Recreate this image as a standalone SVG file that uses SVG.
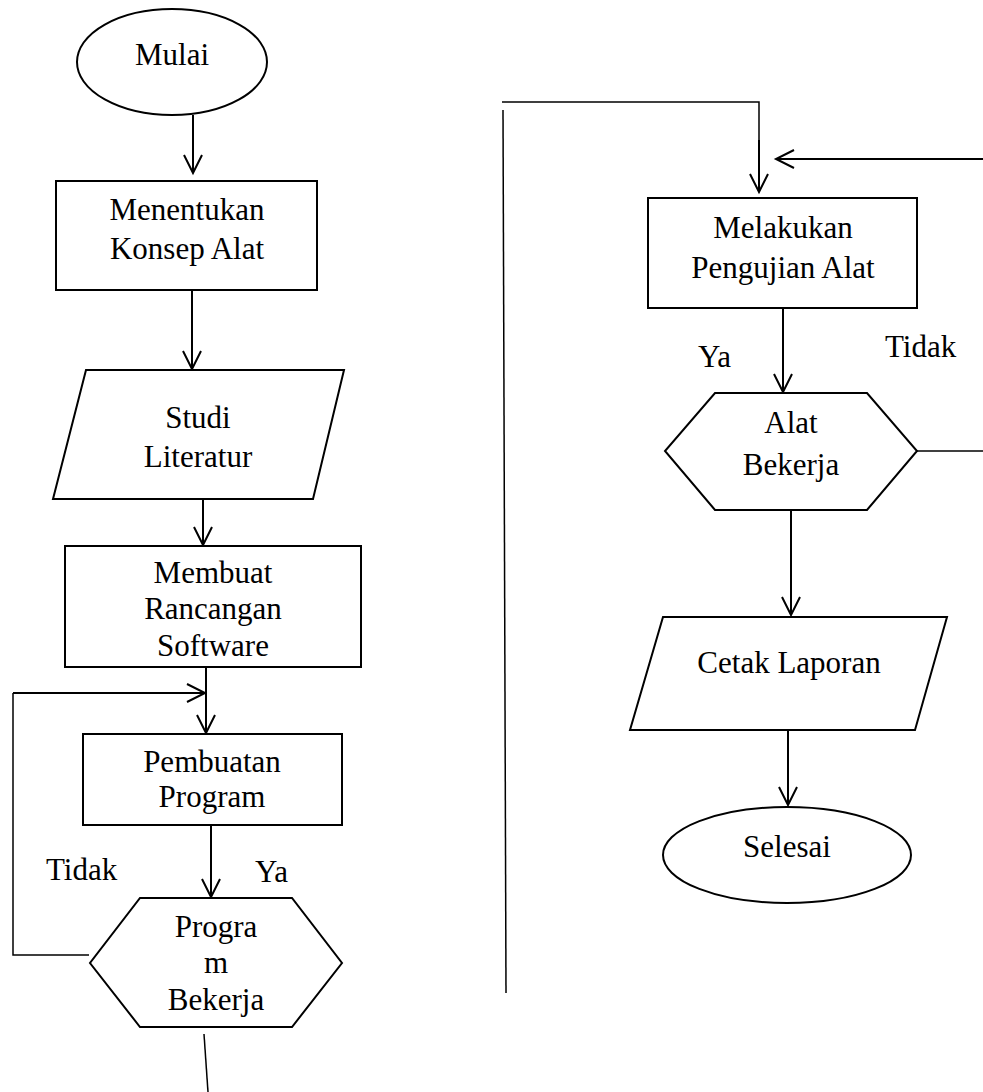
<svg xmlns="http://www.w3.org/2000/svg" width="983" height="1092" viewBox="0 0 983 1092">
<style>
.shape{fill:#fff;stroke:#000;stroke-width:2}
.ln{fill:none;stroke:#000;stroke-width:2}
.thin{fill:none;stroke:#000;stroke-width:1.5}
text{font-family:"Liberation Serif","Times New Roman",serif;font-size:31px;fill:#000}
.c{text-anchor:middle}
</style>
<defs>
<marker id="arr" markerUnits="userSpaceOnUse" markerWidth="22" markerHeight="22" refX="18" refY="9" orient="auto" overflow="visible">
<path d="M0,0 L18,9 L0,18" fill="none" stroke="#000" stroke-width="2"/>
</marker>
</defs>
<rect width="983" height="1092" fill="#fff"/>
<g id="connectors">
<line class="ln" x1="193" y1="115" x2="193" y2="173" marker-end="url(#arr)"/>
<line class="ln" x1="192" y1="290" x2="192" y2="369" marker-end="url(#arr)"/>
<line class="ln" x1="203" y1="499" x2="203" y2="545" marker-end="url(#arr)"/>
<line class="ln" x1="206" y1="667" x2="206" y2="733" marker-end="url(#arr)"/>
<polyline class="thin" points="89,955 13,955 13,693"/>
<line class="ln" x1="13" y1="693" x2="205" y2="693" marker-end="url(#arr)"/>
<line class="ln" x1="211" y1="825" x2="211" y2="897" marker-end="url(#arr)"/>
<line class="thin" x1="204" y1="1034" x2="208" y2="1092"/>
<line class="thin" x1="503" y1="110" x2="506" y2="993"/>
<polyline class="thin" points="502,102 759,102 759,150"/>
<line class="ln" x1="759" y1="140" x2="759" y2="192" marker-end="url(#arr)"/>
<line class="ln" x1="983" y1="159" x2="776" y2="159" marker-end="url(#arr)"/>
<line class="ln" x1="783" y1="308" x2="783" y2="392" marker-end="url(#arr)"/>
<line class="thin" x1="917" y1="451" x2="983" y2="451"/>
<line class="ln" x1="791" y1="509" x2="791" y2="615" marker-end="url(#arr)"/>
<line class="ln" x1="788" y1="730" x2="788" y2="805" marker-end="url(#arr)"/>
</g>
<g id="mulai">
<ellipse class="shape" cx="172" cy="62" rx="95" ry="53"/>
<text class="c" x="172" y="65">Mulai</text>
</g>
<g id="menentukan">
<rect class="shape" x="56" y="181" width="261" height="109"/>
<text class="c" x="187" y="220">Menentukan</text>
<text class="c" x="187" y="259">Konsep Alat</text>
</g>
<g id="studi">
<polygon class="shape" points="86,370 344,370 313,499 53,499"/>
<text class="c" x="198" y="428">Studi</text>
<text class="c" x="198" y="467">Literatur</text>
</g>
<g id="membuat">
<rect class="shape" x="65" y="546" width="296" height="121"/>
<text class="c" x="213" y="583">Membuat</text>
<text class="c" x="213" y="619">Rancangan</text>
<text class="c" x="213" y="656">Software</text>
</g>
<g id="pembuatan">
<rect class="shape" x="83" y="734" width="259" height="91"/>
<text class="c" x="212" y="772">Pembuatan</text>
<text class="c" x="212" y="807">Program</text>
</g>
<g id="program-bekerja">
<polygon class="shape" points="140,898 292,898 342,963 292,1027 140,1027 90,963"/>
<text class="c" x="216" y="937">Progra</text>
<text class="c" x="216" y="973">m</text>
<text class="c" x="216" y="1010">Bekerja</text>
</g>
<g id="label-tidak-left"><text x="46" y="880">Tidak</text></g>
<g id="label-ya-left"><text x="255" y="882">Ya</text></g>
<g id="melakukan">
<rect class="shape" x="648" y="198" width="269" height="110"/>
<text class="c" x="783" y="238">Melakukan</text>
<text class="c" x="783" y="278">Pengujian Alat</text>
</g>
<g id="label-ya-right"><text x="698" y="367">Ya</text></g>
<g id="label-tidak-right"><text x="885" y="357">Tidak</text></g>
<g id="alat-bekerja">
<polygon class="shape" points="715,393 867,393 917,451 867,510 715,510 665,451"/>
<text class="c" x="791" y="433">Alat</text>
<text class="c" x="791" y="475">Bekerja</text>
</g>
<g id="cetak">
<polygon class="shape" points="663,617 947,617 915,730 630,730"/>
<text class="c" x="789" y="673">Cetak Laporan</text>
</g>
<g id="selesai">
<ellipse class="shape" cx="787" cy="855" rx="124" ry="48"/>
<text class="c" x="787" y="857">Selesai</text>
</g>
</svg>
